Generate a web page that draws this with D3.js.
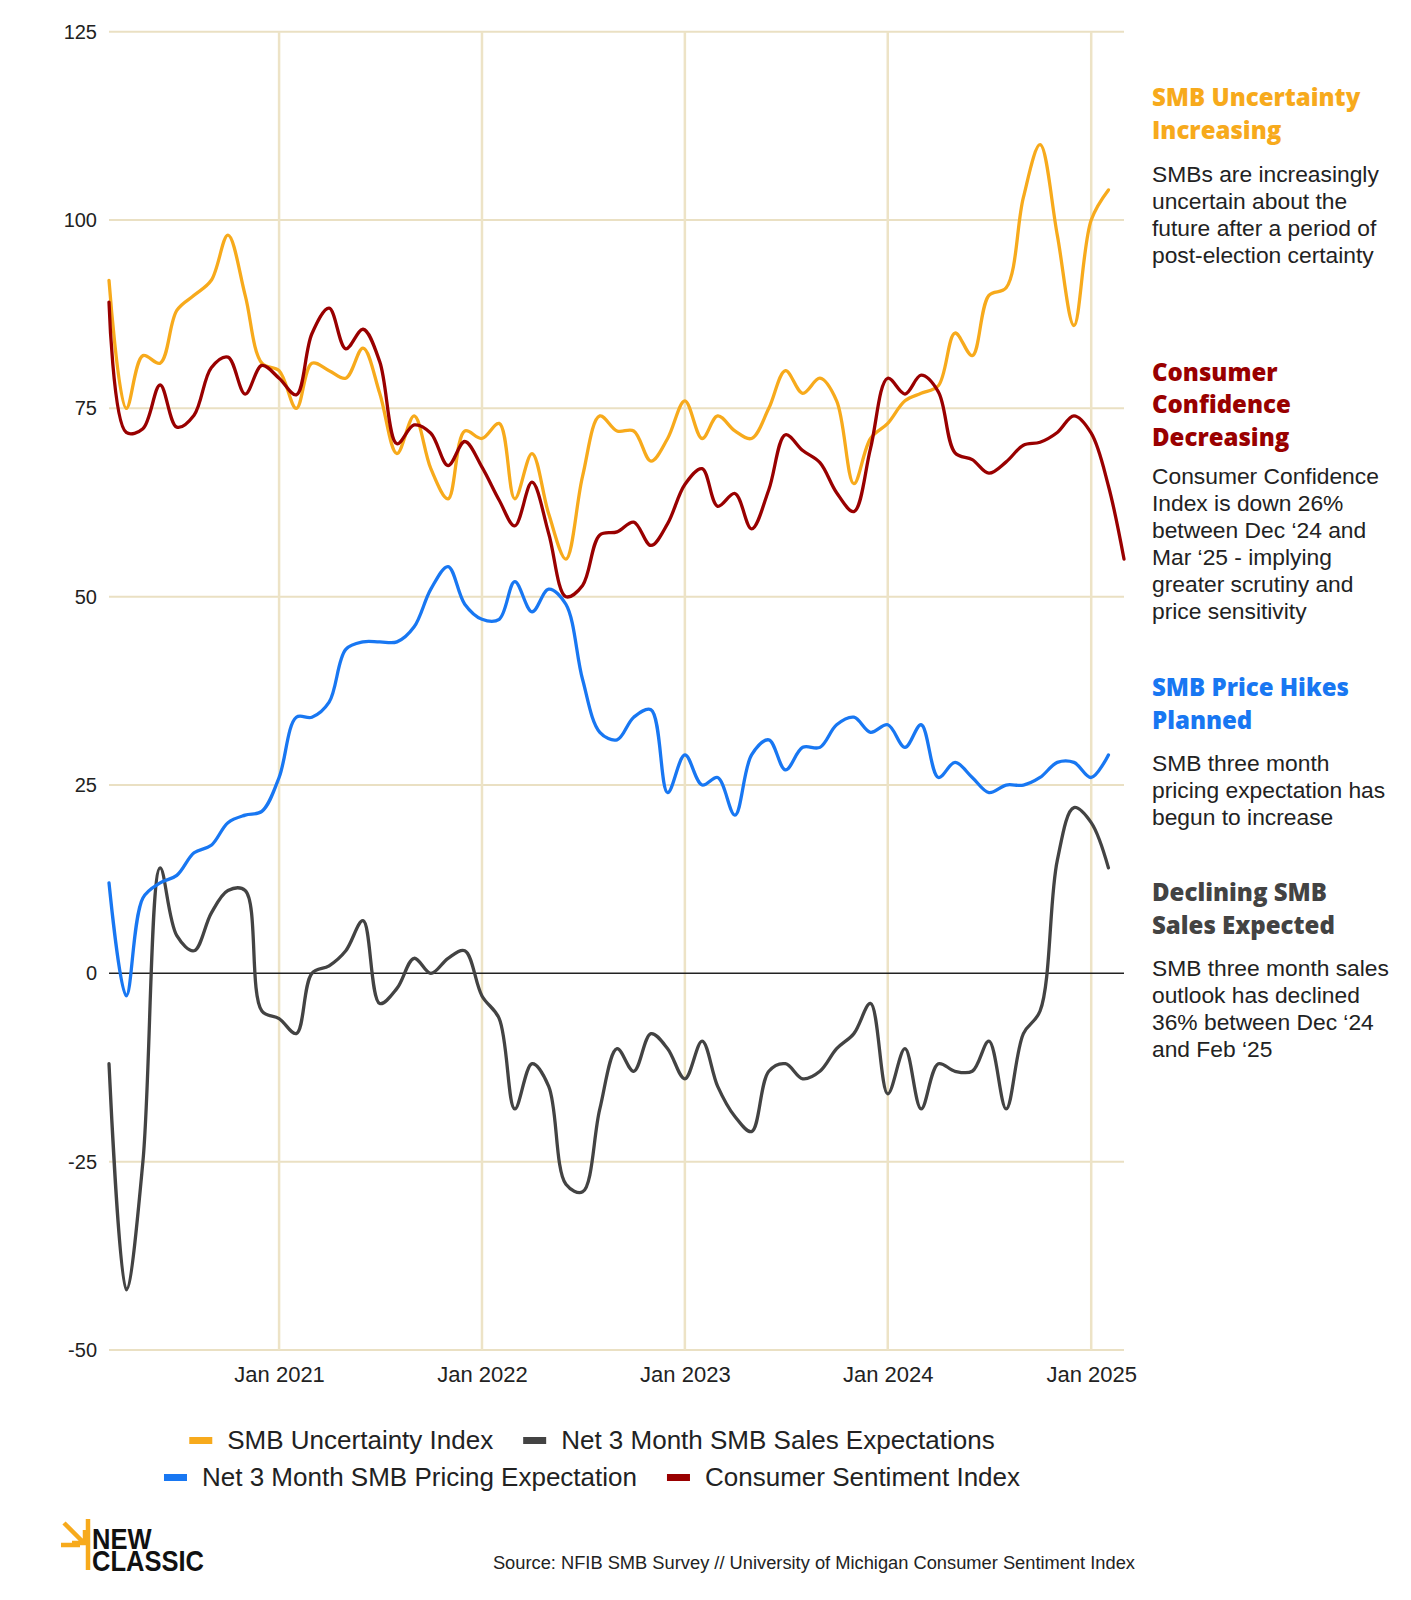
<!DOCTYPE html>
<html>
<head>
<meta charset="utf-8">
<script src="https://cdn.jsdelivr.net/npm/d3@7"></script>
<style>
  body { margin: 0; background: #fff; }
  svg { display: block; }
</style>
</head>
<body>
<svg id="chart" width="1411" height="1600"></svg>
<script>
// monthly, Mar 2020 .. Mar 2025
var startMonth = new Date(2020, 2, 1);
var endMonth = new Date(2025, 2, 1);
var months = d3.timeMonths(startMonth, d3.timeMonth.offset(endMonth, 1));

var uncertainty = [92, 75, 82, 81, 88, 90, 92, 98, 90, 81,
  80, 75, 81, 80, 79, 83, 77, 69, 74, 67,
  63, 72, 71, 73, 63, 69, 61, 55, 66, 74,
  72, 72, 68, 71, 76, 71, 74, 72, 71, 75,
  80, 77, 79, 76, 65, 71, 73, 76, 77, 78,
  85, 82, 90, 91, 103, 110, 98, 86, 100, 104];

var salesExp = [-12, -42, -25, 14, 5, 3, 8, 11, 11, -5,
  -6, -8, 0, 1, 3, 7, -4, -2, 2, 0,
  2, 3, -3, -6, -18, -12, -15, -28, -29, -18,
  -10, -13, -8, -10, -14, -9, -15, -19, -21, -13,
  -12, -14, -13, -10, -8, -4, -16, -10, -18, -12,
  -13, -13, -9, -18, -8, -5, 15, 22, 20, 14];

var pricingExp = [12, -3, 10, 12, 13, 16, 17, 20, 21, 21.5,
  26, 34, 34, 36, 43, 44, 44, 44, 46, 51,
  54, 49, 47, 47, 52, 48, 51, 49, 39, 32,
  31, 34, 35, 24, 29, 25, 26, 21, 29, 31,
  27, 30, 30, 33, 34, 32, 33, 30, 33, 26,
  28, 26, 24, 25, 25, 26, 28, 28, 26, 29];

var sentiment = [89.1, 71.8, 72.3, 78.1, 72.5, 74.1, 80.4, 81.8, 76.9, 80.7,
  79.0, 76.8, 84.9, 88.3, 82.9, 85.5, 81.2, 70.3, 72.8, 71.7,
  67.4, 70.6, 67.2, 62.8, 59.4, 65.2, 58.4, 50.0, 51.5, 58.2,
  58.6, 59.9, 56.8, 59.7, 64.9, 67.0, 62.0, 63.7, 59.0, 64.2,
  71.5, 69.4, 67.8, 63.8, 61.3, 69.7, 79.0, 76.9, 79.4, 77.2,
  69.1, 68.2, 66.4, 67.9, 70.1, 70.5, 71.8, 74.0, 71.7, 64.7, 55];

var yTicks = [125, 100, 75, 50, 25, 0, -25, -50];
var xTickYears = [2021, 2022, 2023, 2024, 2025];

var orange = '#f7aa1c', gray = '#434343', blue = '#1877f2', red = '#990000';

var series = [
  { name: 'SMB Uncertainty Index', values: uncertainty, color: orange },
  { name: 'Net 3 Month SMB Sales Expectations', values: salesExp, color: gray },
  { name: 'Net 3 Month SMB Pricing Expectation', values: pricingExp, color: blue },
  { name: 'Consumer Sentiment Index', values: sentiment, color: red }
];

var notes = [
  { color: orange, head: ['SMB Uncertainty', 'Increasing'], y: 106, bodyY: 181.5,
    body: ['SMBs are increasingly', 'uncertain about the', 'future after a period of', 'post-election certainty'] },
  { color: red, head: ['Consumer', 'Confidence', 'Decreasing'], y: 380.5, bodyY: 483.5,
    body: ['Consumer Confidence', 'Index is down 26%', 'between Dec \u201824 and', 'Mar \u201825 - implying', 'greater scrutiny and', 'price sensitivity'] },
  { color: blue, head: ['SMB Price Hikes', 'Planned'], y: 696, bodyY: 771,
    body: ['SMB three month', 'pricing expectation has', 'begun to increase'] },
  { color: gray, head: ['Declining SMB', 'Sales Expected'], y: 901, bodyY: 975.5,
    body: ['SMB three month sales', 'outlook has declined', '36% between Dec \u201824', 'and Feb \u201825'] }
];

var svg = d3.select('#chart');
var sans = '"Liberation Sans", Arial, sans-serif';

var x = d3.scaleTime().domain([startMonth, endMonth]).range([109, 1124]);
var y = d3.scaleLinear().domain([-50, 125]).range([1350, 31.7]);

// grid
var grid = svg.append('g');
grid.selectAll('line.h').data(yTicks.filter(function (d) { return d !== 0; })).enter().append('line')
  .attr('x1', x.range()[0]).attr('x2', x.range()[1])
  .attr('y1', function (d) { return y(d); }).attr('y2', function (d) { return y(d); })
  .attr('stroke', '#eae0c3').attr('stroke-width', 2);
grid.selectAll('line.v').data(xTickYears).enter().append('line')
  .attr('x1', function (d) { return x(new Date(d, 0, 1)); })
  .attr('x2', function (d) { return x(new Date(d, 0, 1)); })
  .attr('y1', y(125)).attr('y2', y(-50))
  .attr('stroke', '#ede3c6').attr('stroke-width', 2.5);
grid.append('line')
  .attr('x1', x.range()[0]).attr('x2', x.range()[1])
  .attr('y1', y(0)).attr('y2', y(0))
  .attr('stroke', '#222').attr('stroke-width', 1.5);

// axes
var yAxis = svg.append('g').attr('transform', 'translate(109,0)')
  .call(d3.axisLeft(y).tickValues(yTicks).tickSize(0).tickPadding(12).tickFormat(function (d) { return String(d); }));
yAxis.select('.domain').remove();
yAxis.selectAll('text').attr('font-family', sans).attr('font-size', 20).attr('fill', '#222');

var xAxis = svg.append('g').attr('transform', 'translate(0,1350)')
  .call(d3.axisBottom(x).tickValues(xTickYears.map(function (d) { return new Date(d, 0, 1); }))
    .tickSize(0).tickPadding(16).tickFormat(d3.timeFormat('Jan %Y')));
xAxis.select('.domain').remove();
xAxis.selectAll('text').attr('font-family', sans).attr('font-size', 22).attr('fill', '#222');

// lines
var line = d3.line()
  .x(function (d, i) { return x(months[i]); })
  .y(function (d) { return y(d); })
  .curve(d3.curveCatmullRom.alpha(0.5));

svg.append('g').selectAll('path').data(series).enter().append('path')
  .attr('d', function (s) { return line(s.values); })
  .attr('fill', 'none')
  .attr('stroke', function (s) { return s.color; })
  .attr('stroke-width', 3.3)
  .attr('stroke-linejoin', 'round')
  .attr('stroke-linecap', 'round');

// notes on the right
notes.forEach(function (n) {
  var g = svg.append('g').attr('transform', 'translate(1152,0)');
  n.head.forEach(function (t, i) {
    g.append('text').attr('x', 0).attr('y', n.y + i * 32.5).text(t)
      .attr('font-family', '"Open Sans", sans-serif').attr('font-weight', 800)
      .attr('font-size', 24).attr('fill', n.color);
  });
  n.body.forEach(function (t, i) {
    g.append('text').attr('x', 0).attr('y', n.bodyY + i * 27.1).text(t)
      .attr('font-family', sans).attr('font-size', 22.8).attr('fill', '#222');
  });
});

// legend
var rows = [[series[0], series[1]], [series[2], series[3]]];
rows.forEach(function (row, r) {
  var g = svg.append('g');
  var base = 1449 + r * 37;
  var cx = 0;
  row.forEach(function (s, k) {
    if (k > 0) cx += 30;
    g.append('rect').attr('x', cx).attr('y', base - 12).attr('width', 23).attr('height', 7).attr('fill', s.color);
    cx += 38;
    var t = g.append('text').attr('x', cx).attr('y', base).text(s.name)
      .attr('font-family', sans).attr('font-size', 26).attr('fill', '#222');
    cx += t.node().getComputedTextLength();
  });
  g.attr('transform', 'translate(' + (592 - cx / 2) + ',0)');
});

// logo
var logo = svg.append('g');
logo.append('path')
  .attr('d', 'M64,1523 L84,1543 M72,1543 L85,1543 L85,1530 M61,1545 L80,1545 M88,1519 L88,1570')
  .attr('fill', 'none').attr('stroke', orange).attr('stroke-width', 4.5);
var logoText = logo.append('text').attr('transform', 'translate(92,0) scale(0.88,1)')
  .attr('font-family', sans).attr('font-weight', 700).attr('font-size', 29).attr('fill', '#111');
logoText.append('tspan').attr('x', 0).attr('y', 1549).text('NEW');
logoText.append('tspan').attr('x', 0).attr('y', 1571).text('CLASSIC');

// source
svg.append('text').attr('x', 1135).attr('y', 1569).attr('text-anchor', 'end')
  .text('Source: NFIB SMB Survey // University of Michigan Consumer Sentiment Index')
  .attr('font-family', sans).attr('font-size', 18.3).attr('fill', '#222');
</script>
</body>
</html>
